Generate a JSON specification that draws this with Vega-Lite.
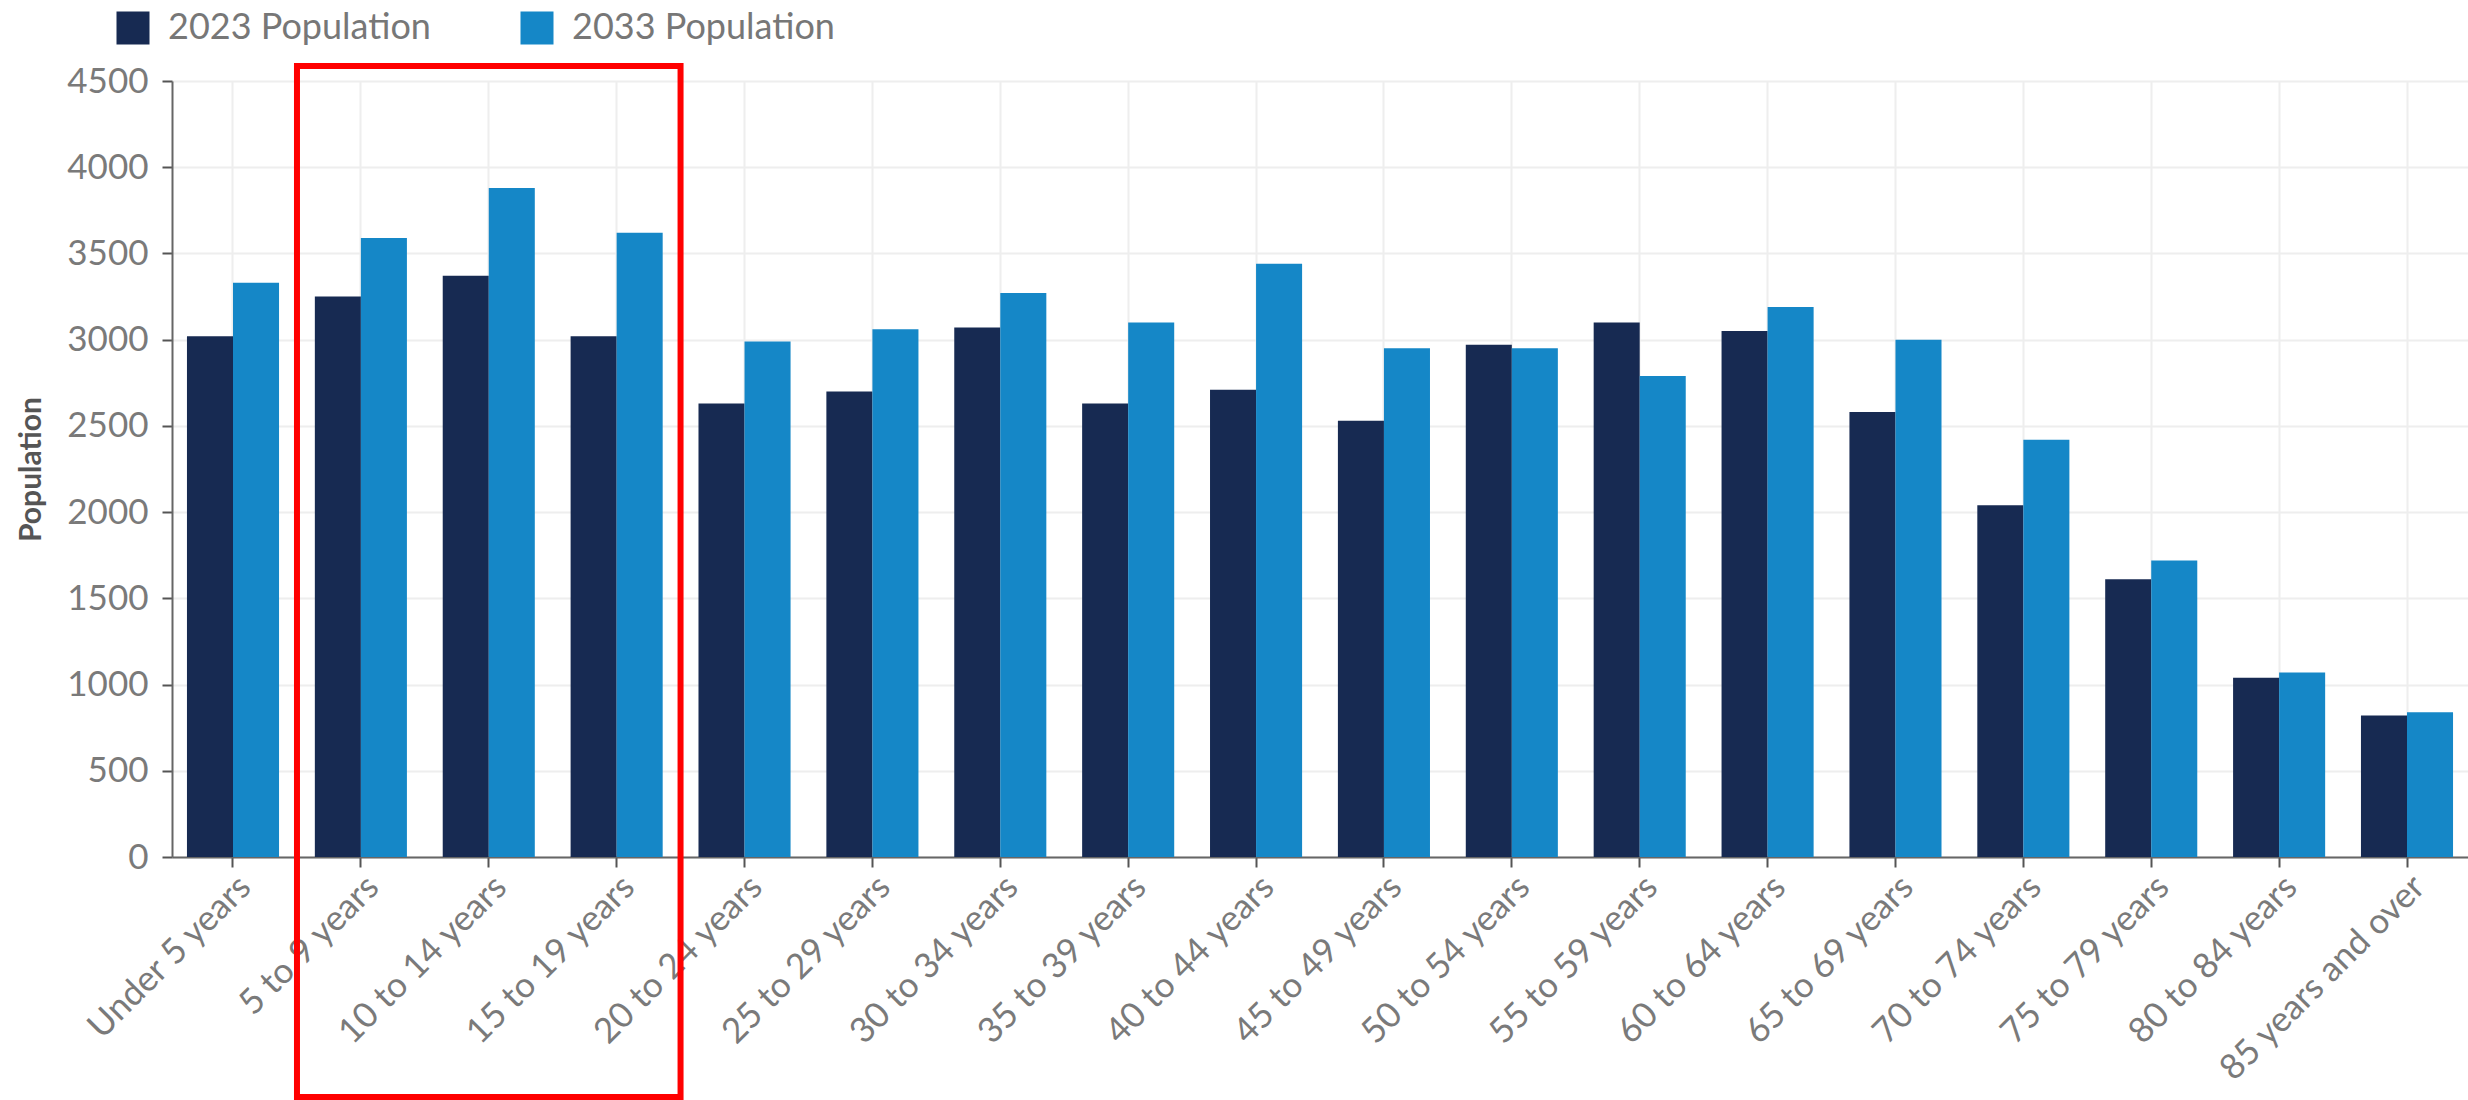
{
  "$schema": "https://vega.github.io/schema/vega-lite/v6.json",
  "width": 2296,
  "height": 776,
  "autosize": {"type": "none"},
  "padding": {"left": 172, "top": 81, "right": 0, "bottom": 243},
  "background": "white",
  "config": {
    "font": "Lato",
    "view": {"stroke": null},
    "axis": {
      "labelFont": "Lato",
      "labelColor": "#7a7a7a",
      "gridColor": "#eeeeee",
      "gridWidth": 2,
      "domainColor": "#666666",
      "domainWidth": 2,
      "tickColor": "#555555",
      "tickWidth": 2,
      "tickSize": 10
    }
  },
  "layer": [
    {
      "data": {
        "values": [
          {"age": "Under 5 years", "series": "2023 Population", "value": 3020},
          {"age": "Under 5 years", "series": "2033 Population", "value": 3330},
          {"age": "5 to 9 years", "series": "2023 Population", "value": 3250},
          {"age": "5 to 9 years", "series": "2033 Population", "value": 3590},
          {"age": "10 to 14 years", "series": "2023 Population", "value": 3370},
          {"age": "10 to 14 years", "series": "2033 Population", "value": 3880},
          {"age": "15 to 19 years", "series": "2023 Population", "value": 3020},
          {"age": "15 to 19 years", "series": "2033 Population", "value": 3620},
          {"age": "20 to 24 years", "series": "2023 Population", "value": 2630},
          {"age": "20 to 24 years", "series": "2033 Population", "value": 2990},
          {"age": "25 to 29 years", "series": "2023 Population", "value": 2700},
          {"age": "25 to 29 years", "series": "2033 Population", "value": 3060},
          {"age": "30 to 34 years", "series": "2023 Population", "value": 3070},
          {"age": "30 to 34 years", "series": "2033 Population", "value": 3270},
          {"age": "35 to 39 years", "series": "2023 Population", "value": 2630},
          {"age": "35 to 39 years", "series": "2033 Population", "value": 3100},
          {"age": "40 to 44 years", "series": "2023 Population", "value": 2710},
          {"age": "40 to 44 years", "series": "2033 Population", "value": 3440},
          {"age": "45 to 49 years", "series": "2023 Population", "value": 2530},
          {"age": "45 to 49 years", "series": "2033 Population", "value": 2950},
          {"age": "50 to 54 years", "series": "2023 Population", "value": 2970},
          {"age": "50 to 54 years", "series": "2033 Population", "value": 2950},
          {"age": "55 to 59 years", "series": "2023 Population", "value": 3100},
          {"age": "55 to 59 years", "series": "2033 Population", "value": 2790},
          {"age": "60 to 64 years", "series": "2023 Population", "value": 3050},
          {"age": "60 to 64 years", "series": "2033 Population", "value": 3190},
          {"age": "65 to 69 years", "series": "2023 Population", "value": 2580},
          {"age": "65 to 69 years", "series": "2033 Population", "value": 3000},
          {"age": "70 to 74 years", "series": "2023 Population", "value": 2040},
          {"age": "70 to 74 years", "series": "2033 Population", "value": 2420},
          {"age": "75 to 79 years", "series": "2023 Population", "value": 1610},
          {"age": "75 to 79 years", "series": "2033 Population", "value": 1720},
          {"age": "80 to 84 years", "series": "2023 Population", "value": 1040},
          {"age": "80 to 84 years", "series": "2033 Population", "value": 1070},
          {"age": "85 years and over", "series": "2023 Population", "value": 820},
          {"age": "85 years and over", "series": "2033 Population", "value": 840}
        ]
      },
      "mark": {"type": "bar"},
      "encoding": {
        "x": {
          "field": "age",
          "type": "nominal",
          "sort": null,
          "title": null,
          "scale": {
            "domain": ["Under 5 years", "5 to 9 years", "10 to 14 years", "15 to 19 years", "20 to 24 years", "25 to 29 years", "30 to 34 years", "35 to 39 years", "40 to 44 years", "45 to 49 years", "50 to 54 years", "55 to 59 years", "60 to 64 years", "65 to 69 years", "70 to 74 years", "75 to 79 years", "80 to 84 years", "85 years and over"],
            "paddingInner": 0.28,
            "paddingOuter": 0.117
          },
          "axis": {"labelAngle": -45, "grid": true, "labelPadding": 2, "labelLimit": 500, "labelFontSize": 35, "domain": true}
        },
        "xOffset": {"field": "series", "type": "nominal", "scale": {"paddingInner": 0, "paddingOuter": 0}},
        "y": {
          "field": "value",
          "type": "quantitative",
          "title": "Population",
          "scale": {"domain": [0, 4500], "nice": false, "zero": true},
          "axis": {
            "values": [0, 500, 1000, 1500, 2000, 2500, 3000, 3500, 4000, 4500],
            "format": "d",
            "labelFontSize": 35,
            "labelPadding": 14,
            "titleFont": "Lato",
            "titleFontSize": 30,
            "titleFontWeight": "bold",
            "titleColor": "#555555",
            "titlePadding": 20
          }
        },
        "color": {
          "field": "series",
          "type": "nominal",
          "scale": {"domain": ["2023 Population", "2033 Population"], "range": ["#172a52", "#1587c7"]},
          "legend": {
            "title": null,
            "orient": "none",
            "direction": "horizontal",
            "legendX": -57,
            "legendY": -71,
            "symbolType": "square",
            "symbolSize": 1089,
            "symbolStrokeWidth": 0,
            "symbolOpacity": 1,
            "labelFontSize": 36,
            "labelColor": "#777777",
            "labelFont": "Lato",
            "labelLimit": 500,
            "columnPadding": 88,
            "labelOffset": 17
          }
        }
      }
    },
    {
      "data": {"values": [{"from": "5 to 9 years", "to": "15 to 19 years", "top": 4587, "bottom": -1392}]},
      "mark": {"type": "rect", "fill": null, "fillOpacity": 0, "stroke": "#ff0000", "strokeWidth": 6, "clip": false},
      "encoding": {
        "x": {"field": "from", "type": "nominal", "bandPosition": -0.194},
        "x2": {"field": "to", "bandPosition": 1.194},
        "y": {"field": "top", "type": "quantitative"},
        "y2": {"field": "bottom"}
      }
    }
  ]
}
